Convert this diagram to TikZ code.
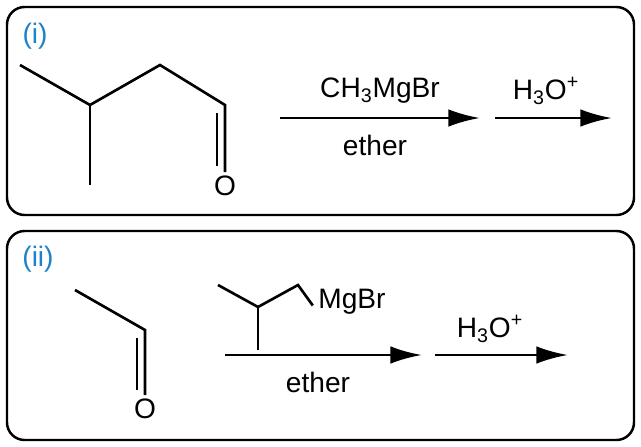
\documentclass[tikz,border=0pt]{standalone}
\usepackage{fontspec}
\setmainfont{Liberation Sans}
\usetikzlibrary{arrows.meta}
\definecolor{labelblue}{RGB}{30,130,200}
\tikzset{
  panel/.style={draw,line width=1.4pt,rounded corners=10pt},
  bond/.style={line width=1.5pt},
  react/.style={line width=1.7pt,-{Latex[length=18pt,width=10pt]}},
  txt/.style={font=\fontsize{16}{19}\selectfont,inner sep=0pt},
  tag/.style={txt,text=labelblue}
}
\begin{document}
\begin{tikzpicture}[x=0.02cm,y=-0.02cm]
  \useasboundingbox (0,0) rectangle (641,446);
  \draw[panel] (7,7) rectangle (634,215);
  \draw[panel] (7,231) rectangle (634,440);
  \node[tag] (t1) at (35,36) {(i)};
  \node[tag] (t2) at (38,259) {(ii)};

  % aldehyde (i)
  \coordinate (a1) at (20,65);
  \coordinate (a2) at (90,105);
  \coordinate (a3) at (160,65);
  \coordinate (a4) at (225,105);
  \coordinate (a5) at (90,185);
  \node[txt] (o1) at (225,186) {O};
  \draw[bond] (a1) -- (a2) -- (a3) -- (a4) -- ([yshift=2pt]o1.north);
  \draw[bond] (a2) -- (a5);
  \draw[bond] (217,113) -- (217,166);

  \coordinate (p1) at (280,118);
  \coordinate (p2) at (480,118);
  \coordinate (p3) at (495,118);
  \coordinate (p4) at (612,118);
  \draw[react] (p1) -- (p2);
  \draw[react] (p3) -- (p4);
  \node[txt] (r1) at (380,91) {CH\textsubscript{3}MgBr};
  \node[txt] (s1) at (375,145) {ether};
  \node[txt] (h1) at (546,91) {H\textsubscript{3}O\textsuperscript{+}};

  % acetaldehyde (ii)
  \coordinate (b1) at (75,290);
  \coordinate (b2) at (145,330);
  \node[txt] (o2) at (145,409) {O};
  \draw[bond] (b1) -- (b2) -- ([yshift=2pt]o2.north);
  \draw[bond] (137,338) -- (137,390);

  % grignard reagent
  \coordinate (g1) at (218,285);
  \coordinate (g2) at (258,307);
  \coordinate (g3) at (298,285);
  \coordinate (g4) at (258,350);
  \node[txt] (mg) at (352,302) {MgBr};
  \draw[bond] (g1) -- (g2) -- (g3) -- ([xshift=-3pt,yshift=-2pt]mg.west);
  \draw[bond] (g2) -- (g4);

  \coordinate (q1) at (225,355);
  \coordinate (q2) at (422,355);
  \coordinate (q3) at (435,355);
  \coordinate (q4) at (568,355);
  \draw[react] (q1) -- (q2);
  \draw[react] (q3) -- (q4);
  \node[txt] (s2) at (318,382) {ether};
  \node[txt] (h2) at (490,329) {H\textsubscript{3}O\textsuperscript{+}};
\end{tikzpicture}
\end{document}
